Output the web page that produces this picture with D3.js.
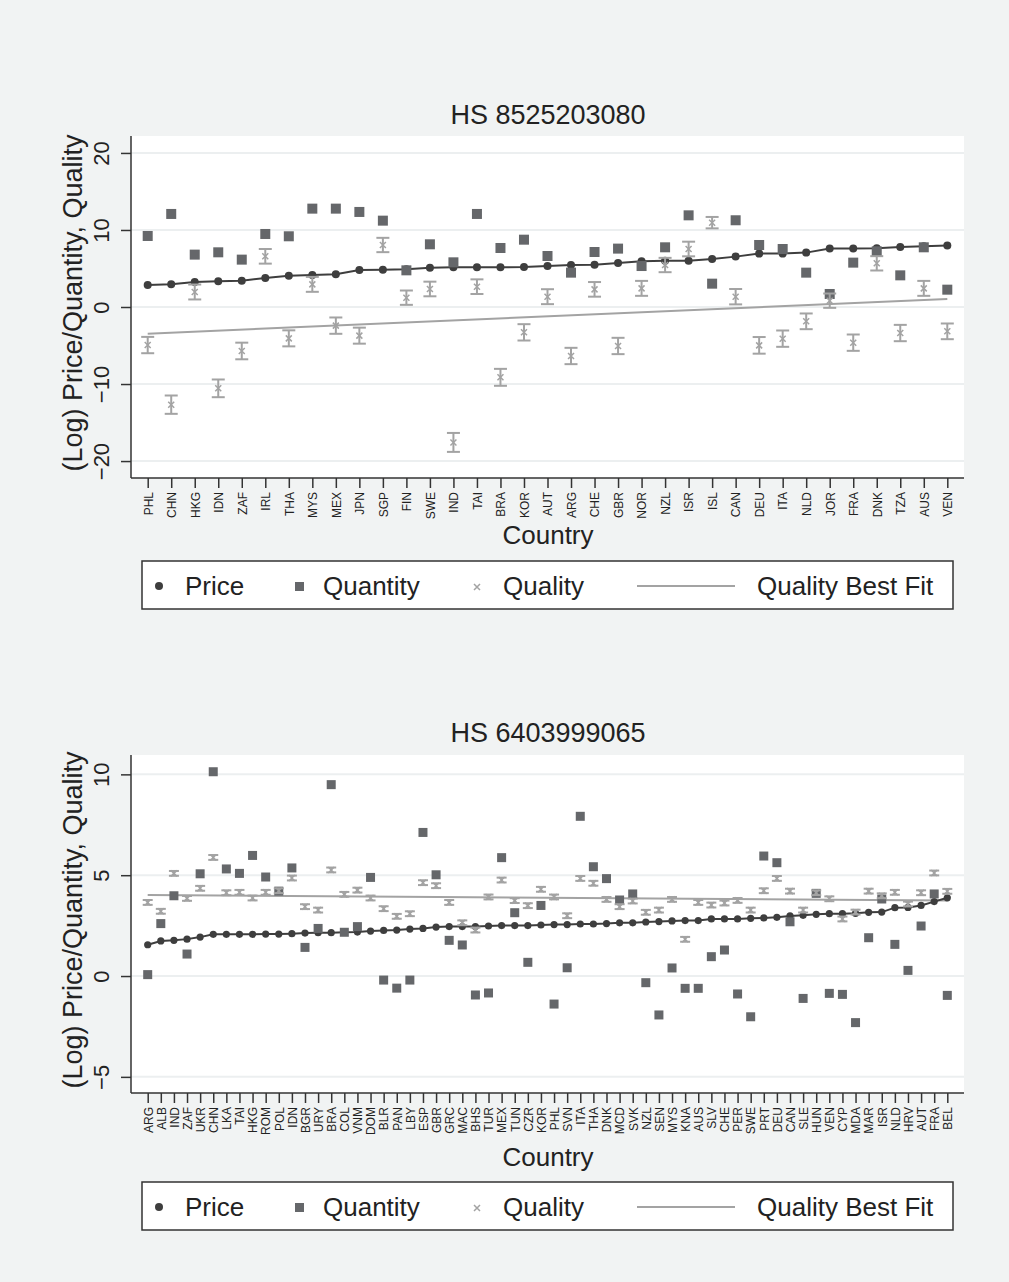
<!DOCTYPE html>
<html>
<head>
<meta charset="utf-8">
<script src="https://cdn.jsdelivr.net/npm/d3@7"></script>
<style>
  body { margin: 0; background: #f1f3f3; }
</style>
</head>
<body>
<div id="chart"></div>
<script>
// dati

var topTitle = "HS 8525203080";
var topCountries = ["PHL","CHN","HKG","IDN","ZAF","IRL","THA","MYS","MEX","JPN","SGP","FIN","SWE","IND","TAI","BRA","KOR","AUT",
                    "ARG","CHE","GBR","NOR","NZL","ISR","ISL","CAN","DEU","ITA","NLD","JOR","FRA","DNK","TZA","AUS","VEN"];
var topPrice = [2.86,2.94,3.25,3.33,3.42,3.77,4.07,4.16,4.24,4.81,4.85,4.89,5.1,5.15,5.15,5.15,5.2,5.32,
                5.45,5.5,5.71,5.93,6.02,6.02,6.23,6.54,6.93,6.93,7.06,7.58,7.58,7.62,7.79,7.88,8.0];
var topQuantity = [9.22,12.08,6.8,7.1,6.15,9.48,9.18,12.77,12.77,12.34,11.21,4.76,8.14,5.8,12.08,7.66,8.74,6.62,
                   4.46,7.14,7.58,5.32,7.75,11.9,3.03,11.26,8.05,7.53,4.46,1.69,5.76,7.23,4.11,7.75,2.25];
var topQuality = [-4.94,-12.68,1.95,-10.56,-5.71,6.58,-4.07,2.94,-2.42,-3.72,8.05,1.21,2.34,-17.58,2.64,-9.13,-3.29,1.34,
                  -6.36,2.29,-5.06,2.42,5.45,7.53,10.95,1.34,-4.98,-4.11,-1.86,0.82,-4.63,5.67,-3.38,2.42,-3.16];
var topQualityCI = [1.06,1.19,0.97,1.15,1.08,0.95,1.04,0.97,1.06,1.04,0.93,0.93,0.95,1.23,0.95,1.1,1.06,0.97,
                    1.06,0.95,1.06,0.97,0.93,0.95,0.74,1.0,1.08,1.06,1.02,0.93,1.06,0.93,1.06,0.97,1.02];
var topFit = [-3.46, 1.04];   // primo e ultimo paese
var topTicks = [-20, -10, 0, 10, 20];

var bottomTitle = "HS 6403999065";
var bottomCountries = ["ARG","ALB","IND","ZAF","UKR","CHN","LKA","TAI","HKG","ROM","POL","IDN","BGR","URY","BRA","COL",
                       "VNM","DOM","BLR","PAN","LBY","ESP","GBR","GRC","MAC","BHS","TUR","MEX","TUN","CZR","KOR",
                       "PHL","SVN","ITA","THA","DNK","MCD","SVK","NZL","SEN","MYS","KNA","AUS","SLV","CHE","PER",
                       "SWE","PRT","DEU","CAN","SLE","HUN","VEN","CYP","MDA","MAR","ISR","NLD","HRV","AUT","FRA","BEL"];
var bottomPrice = [1.55,1.74,1.77,1.83,1.93,2.07,2.07,2.07,2.07,2.08,2.08,2.1,2.13,2.15,2.15,2.17,
                   2.18,2.23,2.26,2.28,2.33,2.36,2.43,2.45,2.45,2.45,2.48,2.5,2.5,2.5,2.53,
                   2.55,2.55,2.58,2.58,2.6,2.64,2.64,2.68,2.7,2.73,2.75,2.75,2.83,2.83,2.83,
                   2.86,2.88,2.91,2.98,3.01,3.06,3.09,3.09,3.11,3.16,3.17,3.39,3.4,3.5,3.69,3.88];
var bottomQuantity = [0.07,2.6,3.98,1.09,5.07,10.13,5.31,5.09,5.98,4.91,4.21,5.36,1.42,2.36,9.49,2.17,
                      2.45,4.89,-0.2,-0.6,-0.2,7.12,5.02,1.77,1.54,-0.94,-0.84,5.87,3.14,0.68,3.5,
                      -1.39,0.41,7.92,5.42,4.83,3.77,4.07,-0.33,-1.93,0.4,-0.61,-0.61,0.96,1.29,-0.89,
                      -2.02,5.95,5.62,2.69,-1.11,4.1,-0.86,-0.91,-2.31,1.9,3.82,1.57,0.28,2.48,4.07,-0.96];
var bottomQuality = [3.65,3.21,5.09,3.85,4.35,5.88,4.13,4.15,3.87,4.15,4.23,4.86,3.44,3.27,5.26,4.05,
                     4.26,3.87,3.34,2.96,3.09,4.63,4.48,3.65,2.64,2.28,3.92,4.76,3.74,3.49,4.3,
                     3.92,2.99,4.84,4.6,3.8,3.44,3.72,3.16,3.27,3.8,1.82,3.65,3.52,3.62,3.75,
                     3.27,4.23,4.84,4.21,3.27,4.13,3.83,2.83,3.17,4.21,3.98,4.15,3.57,4.13,5.11,4.2];
var bottomQualityCI = 0.12;   // intervalli molto stretti, tutti uguali a occhio
var bottomFit = [4.02, 3.75];
var bottomTicks = [-5, 0, 5, 10];

var legendLabels = ["Price", "Quantity", "Quality", "Quality Best Fit"];

var width = 1009;
var height = 1282;
var font = "'Liberation Sans', Arial, Helvetica, sans-serif";

var priceColor = "#3e3e3e";
var quantityColor = "#65676a";
var qualityColor = "#a3a3a3";

var svg = d3.select("#chart")
            .append("svg")
            .attr("width", width)
            .attr("height", height)
            .style("font-family", font);

svg.append("rect")
   .attr("width", width)
   .attr("height", height)
   .attr("fill", "#f1f3f3");

function fmt(v) {
    return v < 0 ? "\u2212" + Math.abs(v) : String(v);
}

function drawPanel(p) {
    var x0 = 131, x1 = 964;

    var x = d3.scalePoint()
              .domain(p.countries)
              .range([x0 + 16.7, x1 - 16.7]);

    var y = d3.scaleLinear()
              .domain(p.domain)
              .range([p.bottom, p.top]);

    var g = svg.append("g");

    // area del grafico
    g.append("rect")
     .attr("x", x0)
     .attr("y", p.top)
     .attr("width", x1 - x0)
     .attr("height", p.bottom - p.top)
     .attr("fill", "#ffffff");

    // griglia
    g.append("g")
     .selectAll("line")
     .data(p.ticks)
     .enter()
     .append("line")
     .attr("x1", x0)
     .attr("x2", x1)
     .attr("y1", function(d) { return y(d); })
     .attr("y2", function(d) { return y(d); })
     .attr("stroke", "#eceff0")
     .attr("stroke-width", 2);

    // titolo
    g.append("text")
     .attr("x", 548)
     .attr("y", p.titleY)
     .attr("text-anchor", "middle")
     .attr("font-size", 27)
     .attr("fill", "#222")
     .text(p.title);

    // asse y (etichette ruotate come in Stata)
    var yAxis = d3.axisLeft(y)
                  .tickValues(p.ticks)
                  .tickSize(10)
                  .tickFormat(fmt);

    var ya = g.append("g")
              .attr("transform", "translate(" + x0 + ",0)")
              .call(yAxis);
    ya.select(".domain").remove();
    ya.selectAll("line").attr("stroke", "#333").attr("stroke-width", 1.5);
    ya.selectAll("text")
      .attr("x", 0)
      .attr("y", 0)
      .attr("dy", null)
      .attr("font-size", 22)
      .attr("font-family", font)
      .attr("fill", "#222")
      .attr("text-anchor", "middle")
      .attr("transform", "translate(-22,0) rotate(-90)");

    g.append("line")
     .attr("x1", x0)
     .attr("x2", x0)
     .attr("y1", p.top)
     .attr("y2", p.bottom)
     .attr("stroke", "#333")
     .attr("stroke-width", 1.5);

    g.append("text")
     .attr("transform", "translate(82," + ((p.top + p.bottom) / 2 - 4) + ") rotate(-90)")
     .attr("text-anchor", "middle")
     .attr("font-size", 27)
     .attr("fill", "#222")
     .text("(Log) Price/Quantity, Quality");

    // asse x
    var xAxis = d3.axisBottom(x)
                  .tickSize(10);

    var xa = g.append("g")
              .attr("transform", "translate(0," + p.bottom + ")")
              .call(xAxis);
    xa.select(".domain").remove();
    xa.selectAll("line").attr("stroke", "#333").attr("stroke-width", 1.5);
    xa.selectAll("text")
      .attr("font-size", 12)
      .attr("font-family", font)
      .attr("fill", "#222")
      .attr("text-anchor", "end")
      .attr("dy", null)
      .attr("y", 0)
      .attr("x", 0)
      .attr("transform", "translate(4.3,14) rotate(-90)");

    g.append("line")
     .attr("x1", x0)
     .attr("x2", x1)
     .attr("y1", p.bottom)
     .attr("y2", p.bottom)
     .attr("stroke", "#333")
     .attr("stroke-width", 1.5);

    g.append("text")
     .attr("x", 548)
     .attr("y", p.countryY)
     .attr("text-anchor", "middle")
     .attr("font-size", 26)
     .attr("fill", "#222")
     .text("Country");

    // retta di best fit della qualità
    var first = p.countries[0], last = p.countries[p.countries.length - 1];
    g.append("line")
     .attr("x1", x(first))
     .attr("x2", x(last))
     .attr("y1", y(p.fit[0]))
     .attr("y2", y(p.fit[1]))
     .attr("stroke", qualityColor)
     .attr("stroke-width", 2);

    // prezzo: linea + punti
    var rows = p.countries.map(function(c, i) {
        return { c: c, price: p.price[i], quantity: p.quantity[i], quality: p.quality[i],
                 ci: Array.isArray(p.ci) ? p.ci[i] : p.ci };
    });

    g.append("path")
     .datum(rows)
     .attr("fill", "none")
     .attr("stroke", priceColor)
     .attr("stroke-width", 2)
     .attr("d", d3.line().x(function(d) { return x(d.c); })
                         .y(function(d) { return y(d.price); }));

    g.append("g")
     .selectAll("circle")
     .data(rows)
     .enter()
     .append("circle")
     .attr("cx", function(d) { return x(d.c); })
     .attr("cy", function(d) { return y(d.price); })
     .attr("r", p.dotR)
     .attr("fill", priceColor);

    // quantità: quadrati
    g.append("g")
     .selectAll("rect")
     .data(rows)
     .enter()
     .append("rect")
     .attr("x", function(d) { return x(d.c) - p.sq / 2; })
     .attr("y", function(d) { return y(d.quantity) - p.sq / 2; })
     .attr("width", p.sq)
     .attr("height", p.sq)
     .attr("fill", quantityColor);

    // qualità: intervallo con baffi + x
    var q = g.append("g")
             .attr("stroke", qualityColor)
             .attr("stroke-width", 2)
             .selectAll("g")
             .data(rows)
             .enter()
             .append("g");

    q.append("line")
     .attr("x1", function(d) { return x(d.c); })
     .attr("x2", function(d) { return x(d.c); })
     .attr("y1", function(d) { return y(d.quality - d.ci); })
     .attr("y2", function(d) { return y(d.quality + d.ci); });

    [-1, 1].forEach(function(s) {
        q.append("line")
         .attr("x1", function(d) { return x(d.c) - p.cap / 2; })
         .attr("x2", function(d) { return x(d.c) + p.cap / 2; })
         .attr("y1", function(d) { return y(d.quality + s * d.ci); })
         .attr("y2", function(d) { return y(d.quality + s * d.ci); });
    });

    q.append("path")
     .attr("stroke-width", 1.5)
     .attr("d", function(d) {
         var cx = x(d.c), cy = y(d.quality), k = 3;
         return "M" + (cx - k) + "," + (cy - k) + "L" + (cx + k) + "," + (cy + k) +
                "M" + (cx - k) + "," + (cy + k) + "L" + (cx + k) + "," + (cy - k);
     });

    // legenda
    var lg = g.append("g")
              .attr("transform", "translate(0," + p.legendY + ")");

    lg.append("rect")
      .attr("x", 142)
      .attr("y", 0)
      .attr("width", 811)
      .attr("height", 48)
      .attr("fill", "#ffffff")
      .attr("stroke", "#333")
      .attr("stroke-width", 1.5);

    lg.append("circle")
      .attr("cx", 159)
      .attr("cy", 25)
      .attr("r", 4)
      .attr("fill", priceColor);

    lg.append("rect")
      .attr("x", 295)
      .attr("y", 21)
      .attr("width", 9)
      .attr("height", 9)
      .attr("fill", quantityColor);

    lg.append("path")
      .attr("d", "M474,23L480,29M474,29L480,23")
      .attr("stroke", qualityColor)
      .attr("stroke-width", 1.5);

    lg.append("line")
      .attr("x1", 637)
      .attr("x2", 735)
      .attr("y1", 25)
      .attr("y2", 25)
      .attr("stroke", qualityColor)
      .attr("stroke-width", 2);

    lg.selectAll("text")
      .data(legendLabels)
      .enter()
      .append("text")
      .attr("x", function(d, i) { return [185, 323, 503, 757][i]; })
      .attr("y", 34)
      .attr("font-size", 26)
      .attr("fill", "#222")
      .text(function(d) { return d; });
}

drawPanel({
    title: topTitle, countries: topCountries, price: topPrice, quantity: topQuantity,
    quality: topQuality, ci: topQualityCI, fit: topFit, ticks: topTicks,
    domain: [-22.2, 22.2], top: 136, bottom: 478,
    titleY: 124, countryY: 544, legendY: 561,
    dotR: 4, sq: 10, cap: 13
});

drawPanel({
    title: bottomTitle, countries: bottomCountries, price: bottomPrice, quantity: bottomQuantity,
    quality: bottomQuality, ci: bottomQualityCI, fit: bottomFit, ticks: bottomTicks,
    domain: [-5.8, 10.96], top: 755, bottom: 1093,
    titleY: 742, countryY: 1166, legendY: 1182,
    dotR: 3.6, sq: 9, cap: 10
});
</script>
</body>
</html>
